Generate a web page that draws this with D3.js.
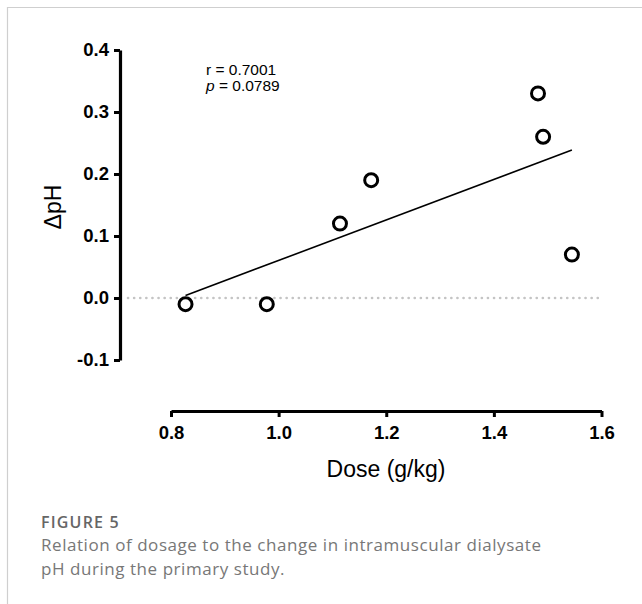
<!DOCTYPE html>
<html>
<head>
<meta charset="utf-8">
<script src="https://cdn.jsdelivr.net/npm/d3@7"></script>
<style>
  body { margin: 0; background: #fff; }
  svg { display: block; }
</style>
</head>
<body>
<div id="chart"></div>
<script>
// data
const doses = [0.827, 0.978, 1.114, 1.172, 1.482, 1.4915, 1.545];
const deltaPH = [-0.01, -0.01, 0.12, 0.19, 0.33, 0.26, 0.07];
const xTicks = [0.8, 1.0, 1.2, 1.4, 1.6];
const yTicks = [-0.1, 0.0, 0.1, 0.2, 0.3, 0.4];
const statsLines = ["r = 0.7001", "p = 0.0789"];
const captionLines = [
    "Relation of dosage to the change in intramuscular dialysate",
    "pH during the primary study."
];

const W = 642, H = 604;
const svg = d3.select("#chart").append("svg")
    .attr("width", W)
    .attr("height", H);

const sans = "'Liberation Sans', Arial, Helvetica, sans-serif";
const fmt = d => d3.format(".1f")(d).replace("\u2212", "-");

// frame lines
svg.append("line").attr("x1", 7).attr("x2", W).attr("y1", 7.5).attr("y2", 7.5)
    .attr("stroke", "#cfcfcf").attr("stroke-width", 1.2);
svg.append("line").attr("x1", 7.5).attr("x2", 7.5).attr("y1", 7).attr("y2", H)
    .attr("stroke", "#cfcfcf").attr("stroke-width", 1.2);

const x = d3.scaleLinear().domain([0.8, 1.6]).range([171, 601.5]);
const y = d3.scaleLinear().domain([-0.1, 0.4]).range([360, 50]);
const yAxisX = 120;
const xAxisY = 411;

// y axis
const yAxis = svg.append("g")
    .attr("transform", `translate(${yAxisX},0)`)
    .call(d3.axisLeft(y).tickValues(yTicks).tickFormat(fmt)
        .tickSize(6).tickSizeOuter(0).tickPadding(5));

// x axis
const xAxis = svg.append("g")
    .attr("transform", `translate(0,${xAxisY})`)
    .call(d3.axisBottom(x).tickValues(xTicks).tickFormat(fmt)
        .tickSize(6).tickSizeOuter(0).tickPadding(9));

[yAxis, xAxis].forEach(g => {
    g.attr("font-family", null).attr("font-size", null);
    g.select(".domain").attr("stroke", "#000").attr("stroke-width", 3.2);
    g.selectAll(".tick line").attr("stroke", "#000").attr("stroke-width", 3);
    g.selectAll(".tick text")
        .attr("fill", "#000")
        .attr("font-family", sans)
        .attr("font-weight", "bold")
        .attr("font-size", 18.5);
});

// axis titles
svg.append("text")
    .attr("transform", "translate(61,207) rotate(-90)")
    .attr("text-anchor", "middle")
    .attr("font-family", sans)
    .attr("font-size", 23)
    .text("ΔpH");

svg.append("text")
    .attr("x", 386)
    .attr("y", 476.5)
    .attr("text-anchor", "middle")
    .attr("font-family", sans)
    .attr("font-size", 23)
    .text("Dose (g/kg)");

// dotted zero line
svg.append("line")
    .attr("x1", yAxisX + 8)
    .attr("x2", x(1.6) - 3)
    .attr("y1", y(0)).attr("y2", y(0))
    .attr("stroke", "#c4c4c4")
    .attr("stroke-width", 2.6)
    .attr("stroke-linecap", "round")
    .attr("stroke-dasharray", "0.1,6");

// least squares fit
const n = doses.length;
const mx = d3.mean(doses), my = d3.mean(deltaPH);
let sxy = 0, sxx = 0;
for (let i = 0; i < n; i++) {
    sxy += (doses[i] - mx) * (deltaPH[i] - my);
    sxx += (doses[i] - mx) * (doses[i] - mx);
}
const slope = sxy / sxx, intercept = my - slope * mx;
const xExt = d3.extent(doses);
svg.append("line")
    .attr("x1", x(xExt[0])).attr("y1", y(intercept + slope * xExt[0]))
    .attr("x2", x(xExt[1])).attr("y2", y(intercept + slope * xExt[1]))
    .attr("stroke", "#000")
    .attr("stroke-width", 1.6);

// points
svg.selectAll("circle.pt")
    .data(doses.map((d, i) => ({dose: d, ph: deltaPH[i]})))
    .enter().append("circle")
    .attr("class", "pt")
    .attr("cx", d => x(d.dose))
    .attr("cy", d => y(d.ph))
    .attr("r", 6.5)
    .attr("fill", "#fff")
    .attr("stroke", "#000")
    .attr("stroke-width", 3);

// stats annotation
const stats = svg.append("g")
    .attr("font-family", sans)
    .attr("font-size", 15.5);
stats.append("text").attr("x", 206).attr("y", 75)
    .text(statsLines[0]);
const pLine = stats.append("text").attr("x", 206).attr("y", 91);
pLine.append("tspan").attr("font-style", "italic").text(statsLines[1].slice(0, 1));
pLine.append("tspan").text(statsLines[1].slice(1));

// caption
const cap = svg.append("g")
    .attr("font-family", "'Open Sans', 'Noto Sans', sans-serif");
cap.append("text").attr("x", 41).attr("y", 527.5)
    .attr("fill", "#666")
    .attr("font-size", 16)
    .attr("font-weight", 600)
    .attr("letter-spacing", 1.2)
    .text("FIGURE 5");
cap.selectAll("text.line")
    .data(captionLines)
    .enter().append("text")
    .attr("class", "line")
    .attr("x", 41)
    .attr("y", (d, i) => 550.5 + i * 24)
    .attr("fill", "#777")
    .attr("font-size", 17)
    .attr("letter-spacing", 0.55)
    .text(d => d);
</script>
</body>
</html>
